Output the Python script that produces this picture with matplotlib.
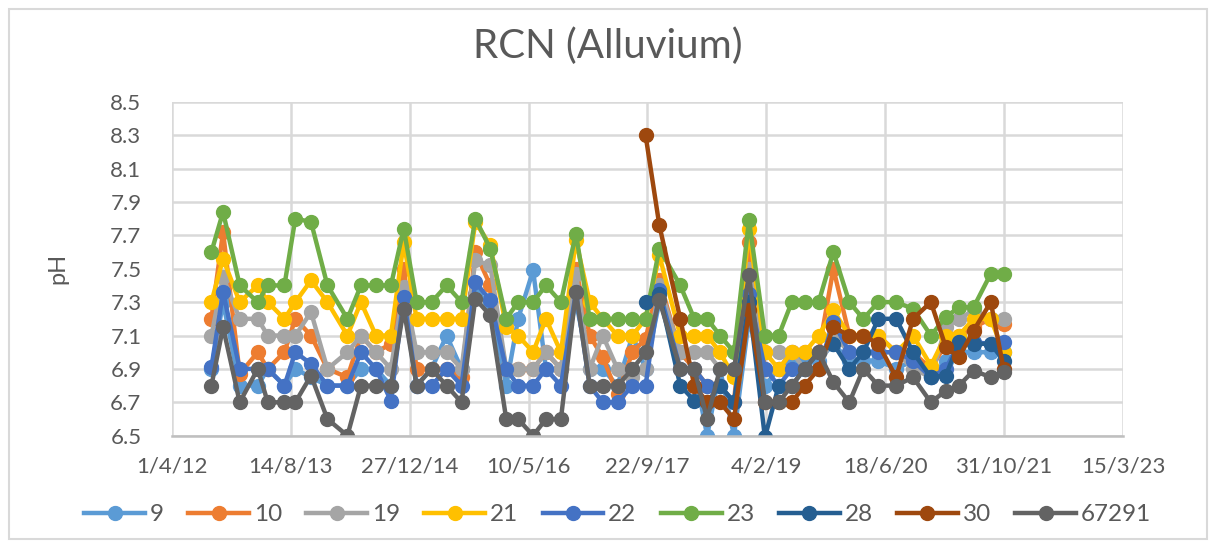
import matplotlib
matplotlib.use("Agg")
import matplotlib.pyplot as plt
import pandas as pd
from matplotlib.patches import Rectangle

plt.rcParams['font.family'] = ['Lato', 'DejaVu Sans']

# sampling dates shared by all wells
DATES = [
    "2012-09-14", "2012-11-02", "2013-01-11", "2013-03-28", "2013-05-09",
    "2013-07-18", "2013-09-02", "2013-11-07", "2014-01-15", "2014-04-09",
    "2014-06-05", "2014-08-07", "2014-10-09", "2014-12-02", "2015-01-25",
    "2015-03-29", "2015-05-31", "2015-08-02", "2015-09-29", "2015-12-01",
    "2016-02-06", "2016-03-27", "2016-05-29", "2016-07-22", "2016-09-23",
    "2016-11-25", "2017-01-22", "2017-03-18", "2017-05-19", "2017-07-21",
    "2017-09-14", "2017-11-11", "2018-02-07", "2018-04-07", "2018-05-31",
    "2018-07-24", "2018-09-21", "2018-11-23", "2019-01-29", "2019-03-28",
    "2019-05-22", "2019-07-15", "2019-09-12", "2019-11-13", "2020-01-19",
    "2020-03-18", "2020-05-20", "2020-08-03", "2020-10-13", "2020-12-27",
    "2021-02-28", "2021-04-24", "2021-06-25", "2021-09-05", "2021-10-29",
]

PH_9 = [6.9, 7.3, 6.8, 6.8, 6.9, 6.8, 6.9, 6.85, 6.8, 6.8,
        6.9, 6.9, 6.8, 7.3, 6.8, 6.9, 7.1, 6.9, 7.35, 7.3,
        6.8, 7.2, 7.49, 6.9, 6.9, 7.3, 6.9, 6.9, 6.8, 7.1,
        6.9, 7.3, 7.0, 6.9, 6.5, 6.9, 6.5, 7.2, 6.8, 6.9,
        6.95, 6.95, 6.95, 7.05, 6.95, 6.95, 6.95, 6.9, 6.95, 6.85,
        6.95, 7.0, 7.0, 7.0, 7.0]
PH_10 = [7.2, 7.72, 6.87, 7.0, 6.9, 7.0, 7.2, 7.1, 6.9, 6.85,
         7.1, 7.0, 7.05, 7.5, 6.9, 6.9, 6.9, 6.85, 7.6, 7.4,
         6.9, 6.9, 6.9, 7.0, 6.9, 7.5, 7.1, 6.97, 6.75, 7.0,
         7.08, 7.43, 7.0, 6.9, 6.8, 6.8, 6.7, 7.66, 6.9, 6.9,
         7.0, 7.0, 7.0, 7.5, 7.1, 7.1, 7.1, 7.0, 7.0, 6.9,
         7.05, 7.1, 7.15, 7.2, 7.17]
PH_19 = [7.1, 7.45, 7.2, 7.2, 7.1, 7.1, 7.1, 7.24, 6.9, 7.0,
         7.1, 7.0, 6.9, 7.39, 7.0, 7.0, 7.0, 6.9, 7.55, 7.52,
         6.9, 6.9, 6.9, 7.0, 6.9, 7.47, 6.9, 7.1, 6.9, 6.85,
         6.9, 7.4, 7.0, 7.0, 7.0, 6.9, 6.9, 7.5, 7.0, 7.0,
         7.0, 6.9, 6.9, 7.1, 7.0, 7.0, 7.0, 7.0, 6.9, 6.85,
         7.15, 7.2, 7.25, 7.2, 7.2]
PH_21 = [7.3, 7.56, 7.3, 7.4, 7.3, 7.2, 7.3, 7.43, 7.3, 7.1,
         7.3, 7.1, 7.1, 7.66, 7.2, 7.2, 7.2, 7.2, 7.78, 7.64,
         7.15, 7.1, 7.0, 7.2, 7.0, 7.67, 7.3, 7.2, 7.1, 7.1,
         7.2, 7.58, 7.1, 7.1, 7.1, 7.0, 6.85, 7.74, 7.0, 6.9,
         7.0, 7.0, 7.1, 7.25, 7.1, 7.1, 7.1, 7.0, 7.1, 6.92,
         7.1, 7.1, 7.2, 7.2, 7.0]
PH_22 = [6.91, 7.36, 6.9, 6.9, 6.9, 6.8, 7.0, 6.93, 6.8, 6.8,
         7.0, 6.9, 6.71, 7.33, 6.8, 6.8, 6.9, 6.8, 7.42, 7.31,
         6.9, 6.8, 6.8, 6.9, 6.8, 7.36, 6.8, 6.7, 6.7, 6.8,
         6.8, 7.37, 6.9, 6.9, 6.8, 6.8, 6.7, 7.35, 6.9, 6.8,
         6.9, 6.9, 6.9, 7.18, 7.0, 7.0, 7.0, 7.0, 6.95, 6.85,
         6.9, 7.06, 7.06, 7.05, 7.06]
PH_23 = [7.6, 7.84, 7.4, 7.3, 7.4, 7.4, 7.8, 7.78, 7.4, 7.2,
         7.4, 7.4, 7.4, 7.74, 7.3, 7.3, 7.4, 7.3, 7.8, 7.62,
         7.2, 7.3, 7.3, 7.4, 7.3, 7.71, 7.2, 7.2, 7.2, 7.2,
         7.2, 7.62, 7.4, 7.2, 7.2, 7.1, 7.0, 7.79, 7.1, 7.1,
         7.3, 7.3, 7.3, 7.6, 7.3, 7.2, 7.3, 7.3, 7.26, 7.1,
         7.21, 7.27, 7.27, 7.47, 7.47]
PH_28 = [None] * 30 + [
         7.3, 7.35, 6.8, 6.71, 6.7, 6.8, 6.7, 7.3, 6.49, 6.8,
         6.8, 6.9, 7.0, 7.05, 6.9, 7.0, 7.2, 7.2, 7.0, 6.85,
         6.86, 7.06, 7.05, 7.05, 6.95]
PH_30 = [None] * 30 + [
         8.3, 7.76, 7.2, 6.8, 6.7, 6.7, 6.6, 7.25, 6.7, 6.7,
         6.7, 6.8, 6.9, 7.15, 7.1, 7.1, 7.05, 6.85, 7.2, 7.3,
         7.03, 6.97, 7.13, 7.3, 6.9]
PH_67291 = [6.8, 7.15, 6.7, 6.9, 6.7, 6.7, 6.7, 6.86, 6.6, 6.5,
            6.8, 6.8, 6.8, 7.26, 6.8, 6.9, 6.8, 6.7, 7.32, 7.22,
            6.6, 6.6, 6.5, 6.6, 6.6, 7.36, 6.8, 6.8, 6.8, 6.9,
            7.0, 7.31, 6.9, 6.9, 6.6, 6.9, 6.9, 7.46, 6.7, 6.7,
            6.8, 6.9, 7.0, 6.82, 6.7, 6.9, 6.8, 6.8, 6.85, 6.7,
            6.77, 6.8, 6.89, 6.85, 6.88]

SERIES = [
    ("9", PH_9, "#5B9BD5"),
    ("10", PH_10, "#ED7D31"),
    ("19", PH_19, "#A5A5A5"),
    ("21", PH_21, "#FFC000"),
    ("22", PH_22, "#4472C4"),
    ("23", PH_23, "#70AD47"),
    ("28", PH_28, "#255E91"),
    ("30", PH_30, "#9E480E"),
    ("67291", PH_67291, "#636363"),
]

TEXT = "#595959"
dates = pd.to_datetime(DATES)

fig = plt.figure(figsize=(12.16, 5.46), dpi=100)
ax = fig.add_axes([0.1414, 0.202, 0.7821, 0.6117])

for name, vals, col in SERIES:
    s = pd.Series(vals, index=dates, dtype=float).dropna()
    ax.plot(s.index, s.values, color=col, lw=3.2, marker="o", ms=10,
            label=name, solid_joinstyle="round")

# date axis: one tick every 500 days from 1 Apr 2012
start = pd.Timestamp("2012-04-01")
ticks = [start + pd.Timedelta(days=500 * i) for i in range(9)]
ax.set_xlim(ticks[0], ticks[-1])
ax.set_xticks(ticks)
ax.set_xticklabels([f"{t.day}/{t.month}/{t.year % 100}" for t in ticks])
ax.set_ylim(6.5, 8.5)
ax.set_yticks([6.5 + 0.2 * i for i in range(11)])
ax.set_yticklabels([f"{6.5 + 0.2 * i:.1f}" for i in range(11)])

ax.grid(True, color="#D9D9D9", lw=1.8)
ax.set_axisbelow(True)
for side in ("top", "right", "left"):
    ax.spines[side].set_visible(False)
ax.spines["bottom"].set_color("#BFBFBF")
ax.spines["bottom"].set_linewidth(1.8)
ax.tick_params(axis="both", length=0, labelsize=16, labelcolor=TEXT)
ax.tick_params(axis="x", pad=15)
ax.tick_params(axis="y", pad=22)

ax.set_ylabel("pH", fontsize=17, color=TEXT, labelpad=30)
fig.text(0.5, 0.915, "RCN (Alluvium)", ha="center", va="center",
         fontsize=29, color=TEXT)

fig.legend(loc="center", bbox_to_anchor=(0.508, 0.057), ncol=9,
           frameon=False, fontsize=17.5, labelcolor=TEXT, handlelength=2.5,
           handletextpad=0.2, columnspacing=1.0)

fig.add_artist(Rectangle((0.007, 0.012), 0.986, 0.972, transform=fig.transFigure,
                         fill=False, edgecolor="#D9D9D9", lw=1.5))

fig.savefig("out.png", dpi=100, facecolor="white")
